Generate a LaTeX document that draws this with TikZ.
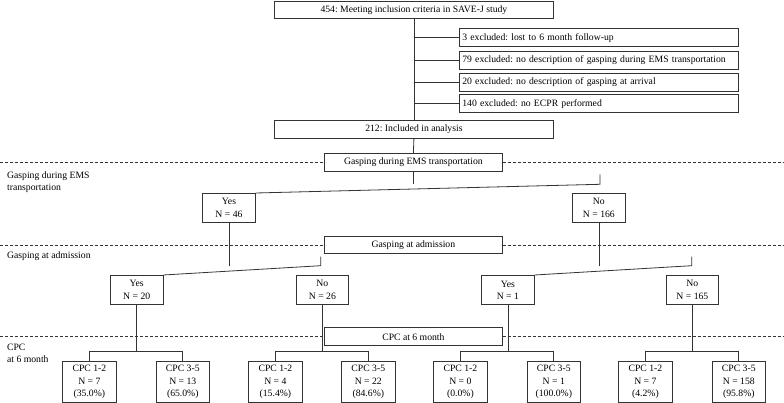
\documentclass[tikz,border=0pt]{standalone}
\usepackage{fontspec}
\setmainfont{Liberation Serif}
\frenchspacing
\begin{document}
\begin{tikzpicture}[x=1pt,y=-1pt,font=\fontsize{9.7}{12.4}\selectfont\frenchspacing,
  line width=0.8pt, draw=black!80,
  box/.style={draw=black!80, line width=0.8pt, inner sep=0pt, anchor=north west, align=center},
  exbox/.style={box, align=left, inner xsep=2.6pt, text width=273pt, minimum height=18pt},
  midbox/.style={box, minimum width=177.4pt, minimum height=17.8pt},
  yn/.style={box, minimum width=52.6pt, minimum height=29.3pt},
  cpcbox/.style={box, minimum width=53.4pt, minimum height=41.5pt},
  conn/.style={draw=black!80, line width=0.8pt},
  sep/.style={draw=black!80, line width=0.6pt, dash pattern=on 3pt off 2pt},
  lab/.style={inner sep=0pt, align=left}]
\useasboundingbox (0,0) rectangle (784,403);
\coordinate (L) at (0,0);
\coordinate (R) at (784,0);

% main column
\node[box, minimum width=279pt, minimum height=17.6pt] (top) at (274,0.6) {454: Meeting inclusion criteria in SAVE-J study};
\node[exbox] (ex1) at (459.3,28.3) {3 excluded: lost to 6 month follow-up};
\node[exbox] (ex2) at (459.3,50.6) {79 excluded: no description of gasping during EMS transportation};
\node[exbox] (ex3) at (459.3,72.6) {20 excluded: no description of gasping at arrival};
\node[exbox] (ex4) at (459.3,94.3) {140 excluded: no ECPR performed};
\node[box, minimum width=279pt, minimum height=18pt] (inc) at (274,120) {212: Included in analysis};
\node[midbox] (gasp1) at (324.3,153) {Gasping during EMS transportation};

% first split
\node[yn] (yes46) at (202.3,193) {Yes\\N = 46};
\node[yn] (no166) at (572.2,193) {No\\N = 166};
\node[midbox] (gasp2) at (324.3,235.6) {Gasping at admission};

% second split
\node[yn] (yes20) at (110,275) {Yes\\N = 20};
\node[yn] (no26) at (295.7,275) {No\\N = 26};
\node[yn] (yes1) at (481.2,275) {Yes\\N = 1};
\node[yn] (no165) at (665.7,275) {No\\N = 165};
\node[midbox] (cpc) at (324.3,327.4) {CPC at 6 month};

% outcome boxes
\node[cpcbox] (a1) at (62.3,360.8) {CPC 1-2\\N = 7\\(35.0\%)};
\node[cpcbox] (a2) at (155.7,360.8) {CPC 3-5\\N = 13\\(65.0\%)};
\node[cpcbox] (b1) at (248.3,360.8) {CPC 1-2\\N = 4\\(15.4\%)};
\node[cpcbox] (b2) at (341.2,360.8) {CPC 3-5\\N = 22\\(84.6\%)};
\node[cpcbox] (c1) at (433.3,360.8) {CPC 1-2\\N = 0\\(0.0\%)};
\node[cpcbox] (c2) at (526.7,360.8) {CPC 3-5\\N = 1\\(100.0\%)};
\node[cpcbox] (d1) at (618.3,360.8) {CPC 1-2\\N = 7\\(4.2\%)};
\node[cpcbox] (d2) at (711.7,360.8) {CPC 3-5\\N = 158\\(95.8\%)};

% left labels
\node[lab, anchor=north west] (l1) at (6.7,171.4) {Gasping during EMS\\transportation};
\node[lab, anchor=base west] (l2) at (6.7,258.3) {Gasping at admission};
\node[lab, anchor=north west] (l3) at (6.7,343.6) {CPC\\at 6 month};

% separators
\draw[sep] (L |- gasp1.west) -- (gasp1.west);
\draw[sep] (gasp1.east) -- (R |- gasp1.east);
\draw[sep] (L |- gasp2.west) -- (gasp2.west);
\draw[sep] (gasp2.east) -- (R |- gasp2.east);
\draw[sep] (L |- cpc.west) -- (cpc.west);
\draw[sep] (cpc.east) -- (R |- cpc.east);

% trunk and exclusions
\draw[conn] (top.south) -- (inc.north);
\foreach \e in {ex1,ex2,ex3,ex4} \draw[conn] (top.south |- \e.west) -- (\e.west);
\draw[conn] (inc.south) -- (gasp1.north);

% first split (skewed elbow)
\coordinate (s1) at (600,184.3);
\coordinate (s1t) at (600,174.3);
\draw[conn] (gasp1.south) -- (gasp1.south |- s1);
\draw[conn] (yes46.north east) -- (s1) -- (s1t);

% second split
\coordinate (s2) at (320.7,265.7);
\coordinate (s2t) at (320.7,256.7);
\coordinate (s3) at (691.7,265.7);
\coordinate (s3t) at (691.7,256.7);
\draw[conn] (yes46.south) -- (yes46.south |- s2);
\draw[conn] (yes20.north east) -- (s2) -- (s2t);
\draw[conn] (no166.south) -- (no166.south |- s3);
\draw[conn] (yes1.north east) -- (s3) -- (s3t);

% outcome brackets
\coordinate (by) at (0,351.4);
\foreach \p/\u/\v in {yes20/a1/a2, no26/b1/b2, yes1/c1/c2, no165/d1/d2}{
  \draw[conn] (\p.south) -- (\p.south |- by);
  \draw[conn] (\u.north) -- (\u.north |- by) -- (\v.north |- by) -- (\v.north);
}
\end{tikzpicture}
\end{document}
